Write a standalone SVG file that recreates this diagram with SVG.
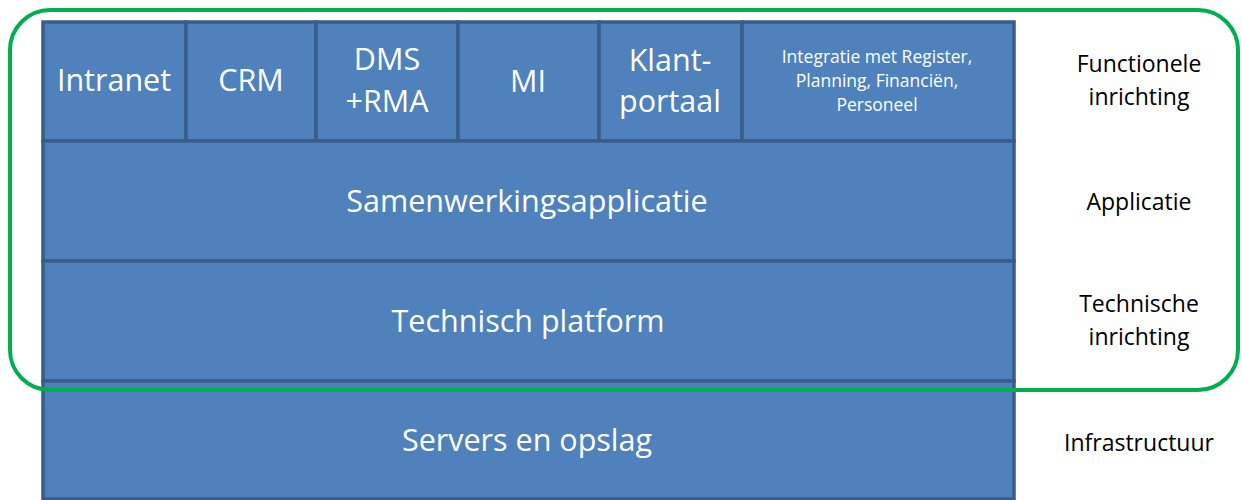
<svg xmlns="http://www.w3.org/2000/svg" width="1242" height="500" viewBox="0 0 1242 500">
<style>
.cell{fill:#4F81BD;stroke:#385D8A;stroke-width:3.5}
.w{fill:#FFFFFF;font-family:"Open Sans",Lato,sans-serif;text-anchor:middle;font-variant-ligatures:none}
.b{fill:#000000;font-family:"Open Sans",Lato,sans-serif;text-anchor:middle;font-size:23px;font-variant-ligatures:none}
.big{font-size:30.5px}
.sm{font-size:17.5px}
</style>
<rect width="1242" height="500" fill="#FFFFFF"/>
<g id="row-top">
<g id="intranet"><rect class="cell" x="43" y="22" width="143" height="119"/><text class="w big" x="114" y="91">Intranet</text></g>
<g id="crm"><rect class="cell" x="186" y="22" width="130" height="119"/><text class="w big" x="251" y="91">CRM</text></g>
<g id="dms"><rect class="cell" x="316" y="22" width="142" height="119"/><text class="w big" x="387" y="70">DMS</text><text class="w big" x="387" y="112">+RMA</text></g>
<g id="mi"><rect class="cell" x="458" y="22" width="141" height="119"/><text class="w big" x="528" y="92">MI</text></g>
<g id="klantportaal"><rect class="cell" x="599" y="22" width="143" height="119"/><text class="w big" x="670" y="71">Klant-</text><text class="w big" x="670" y="112">portaal</text></g>
<g id="integratie"><rect class="cell" x="742" y="22" width="272" height="119"/><text class="w sm" x="877" y="63">Integratie met Register,</text><text class="w sm" x="877" y="87">Planning, Financiën,</text><text class="w sm" x="877" y="111">Personeel</text></g>
</g>
<g id="samenwerkingsapplicatie"><rect class="cell" x="43" y="141" width="971" height="120"/><text class="w big" x="527" y="212">Samenwerkingsapplicatie</text></g>
<g id="technisch-platform"><rect class="cell" x="43" y="261" width="971" height="120"/><text class="w big" x="528" y="332">Technisch platform</text></g>
<g id="servers"><rect class="cell" x="43" y="381" width="971" height="118"/><text class="w big" x="527" y="451">Servers en opslag</text></g>
<g id="connectors">
<rect x="10" y="10" width="1228" height="380" rx="40" ry="40" fill="none" stroke="#00B050" stroke-width="4"/>
</g>
<g id="labels">
<text class="b" x="1139" y="72">Functionele</text>
<text class="b" x="1139" y="105">inrichting</text>
<text class="b" x="1139" y="210">Applicatie</text>
<text class="b" x="1139" y="312">Technische</text>
<text class="b" x="1139" y="345">inrichting</text>
<text class="b" x="1139" y="451">Infrastructuur</text>
</g>
</svg>
